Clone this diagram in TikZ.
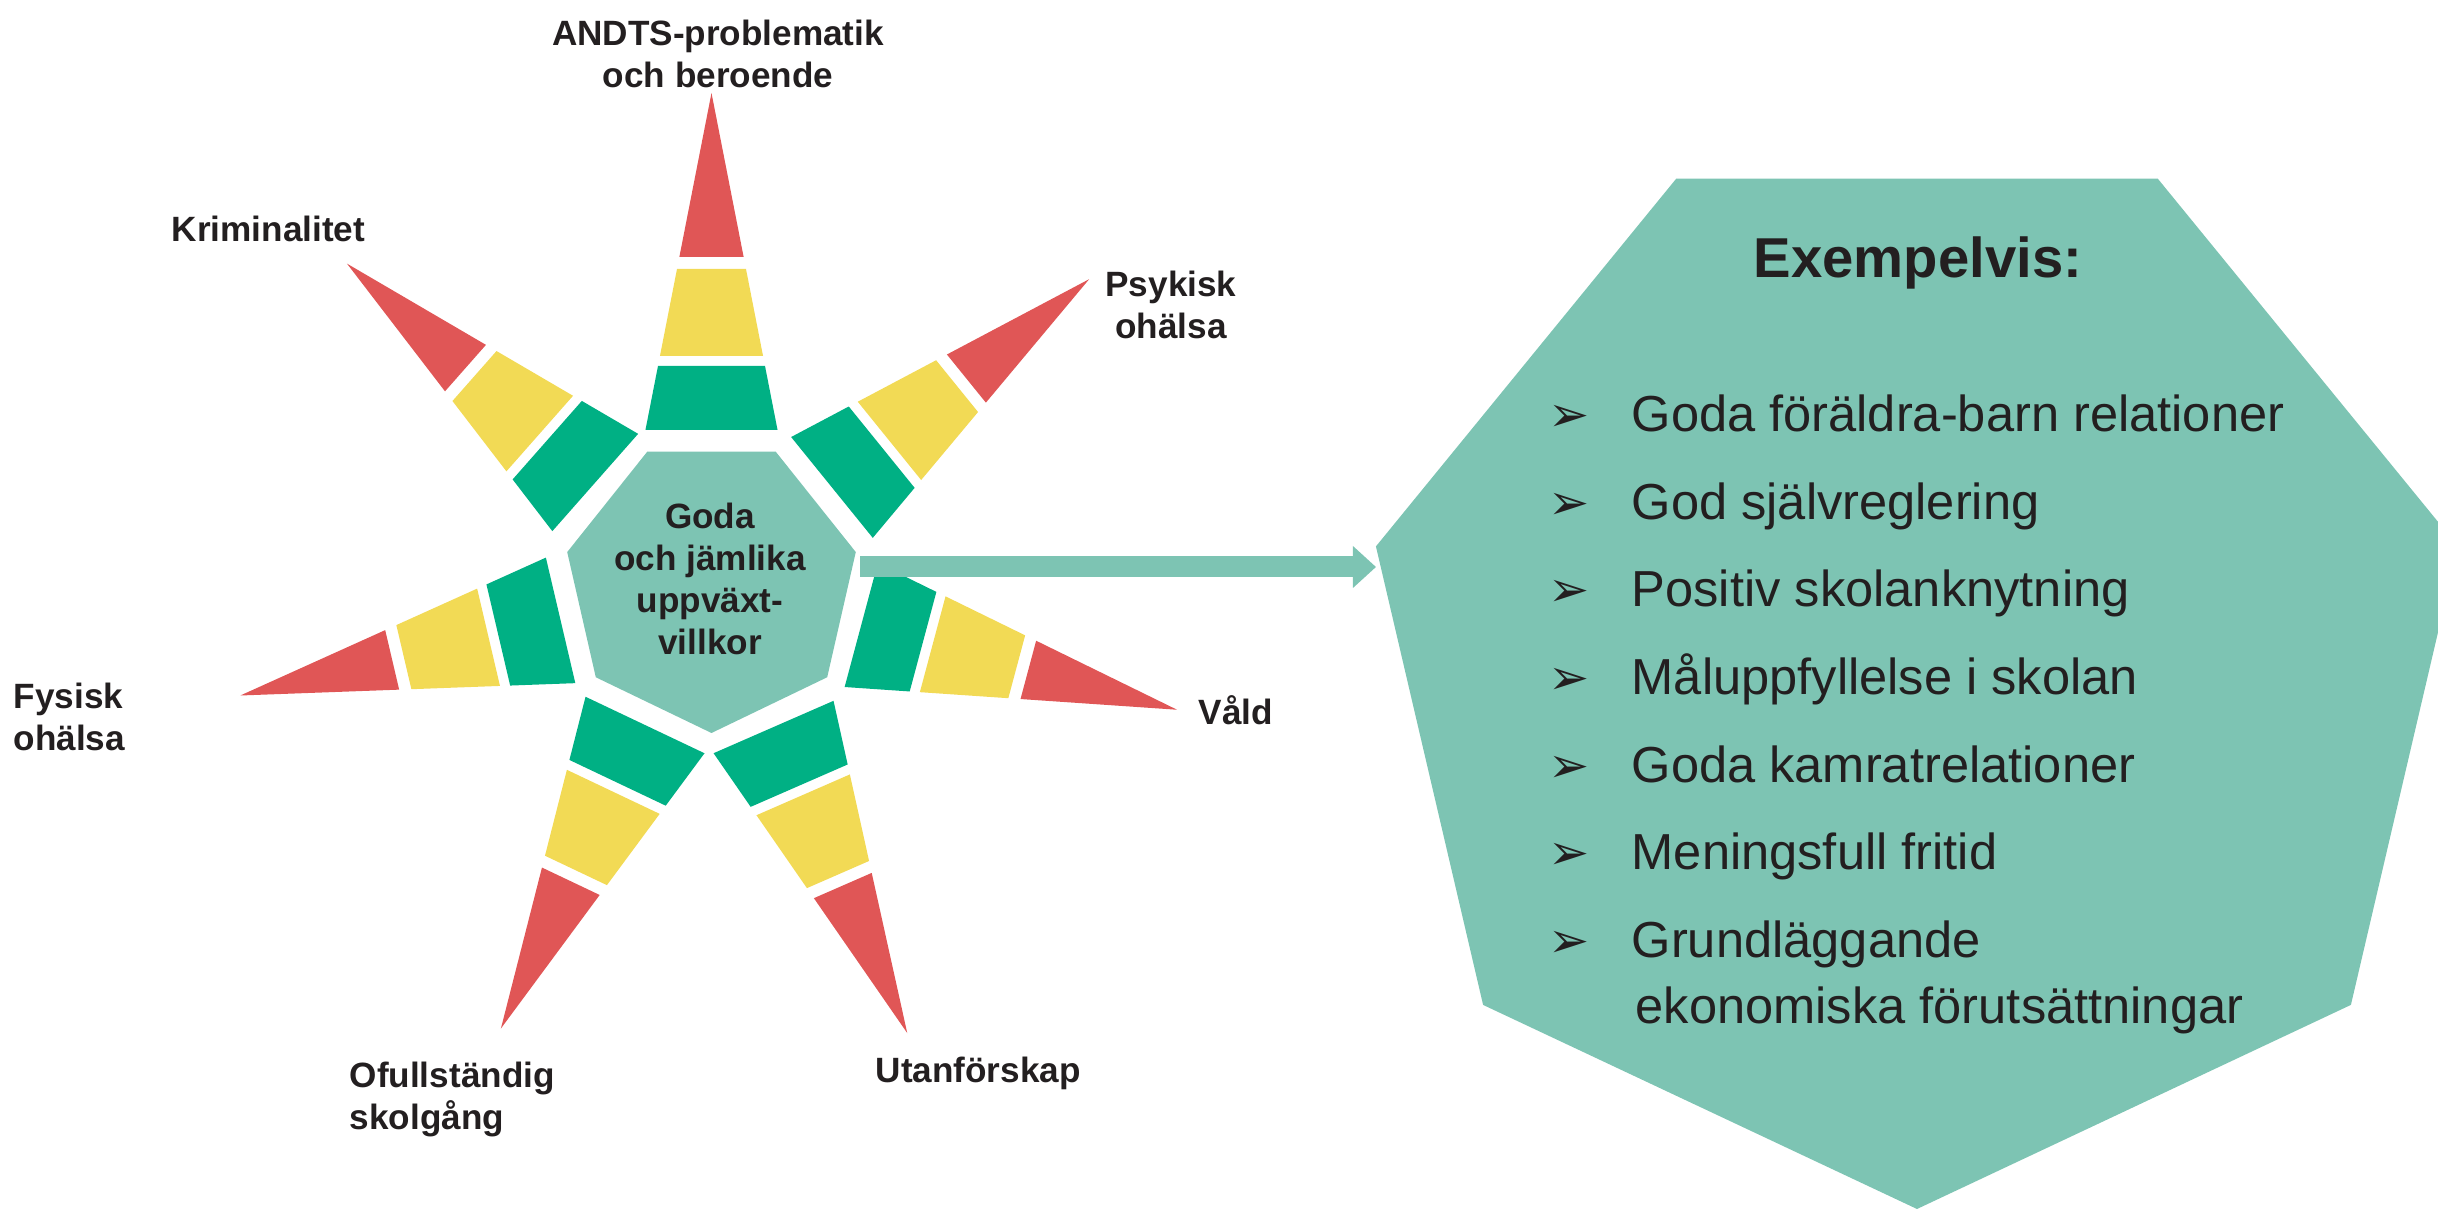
\documentclass[tikz,border=0pt]{standalone}
\usepackage{fontspec}
\setmainfont{Liberation Sans}
\newfontfamily\symbfont{DejaVu Sans}
\usetikzlibrary{shapes.geometric,%
                arrows.meta}

\definecolor{rayred}{HTML}{E05656}
\definecolor{rayyellow}{HTML}{F2DA55}
\definecolor{raygreen}{HTML}{00B084}
\definecolor{hepta}{HTML}{7DC4B3}
\definecolor{ink}{HTML}{231F20}

% one ray of the star: #1 angle, #2 length of the tip
\newcommand{\Ray}[2]{%
  \begin{scope}[shift={(core.center)},rotate=#1]
    \fill[raygreen] (1.55,{-0.196*(#2-1.55)}) -- (2.19,{-0.196*(#2-2.19)})
      -- (2.19,{0.196*(#2-2.19)}) -- (1.55,{0.196*(#2-1.55)}) -- cycle;
    \fill[rayyellow] (2.29,{-0.196*(#2-2.29)}) -- (3.16,{-0.196*(#2-3.16)})
      -- (3.16,{0.196*(#2-3.16)}) -- (2.29,{0.196*(#2-2.29)}) -- cycle;
    \fill[rayred] (3.28,{-0.196*(#2-3.28)}) -- (#2,0)
      -- (3.28,{0.196*(#2-3.28)}) -- cycle;
  \end{scope}}

\begin{document}
\begin{tikzpicture}
  \tikzstyle{Hepta}=[regular polygon,regular polygon sides=7,shape border rotate=180,
                     fill=hepta,inner sep=0pt,outer sep=0pt]
  \tikzstyle{Cause}=[font=\bfseries\fontsize{10}{12}\selectfont,text=ink,inner sep=0pt]
  \tikzstyle{Item}=[font=\fontsize{14.4}{17}\selectfont,text=ink,inner sep=0pt,anchor=base west]
  \tikzstyle{Bullet}=[font=\symbfont\bfseries\fontsize{14}{16}\selectfont,text=ink,inner sep=0pt,anchor=base west]
  \tikzstyle{Flow}=[draw=hepta,line width=2.1mm,-{Triangle[length=2.3mm,width=4.2mm,line width=0pt]}]
  \useasboundingbox (0,0) rectangle (24.38,12.09);
  \node[Hepta,minimum size=2.96cm] (core) at (7.115,6.24) {};
  \Ray{90}{4.92}
  \Ray{39}{4.86}
  \Ray{-15}{4.82}
  \Ray{-66.4}{4.89}
  \Ray{244.6}{4.91}
  \Ray{193.2}{4.84}
  \Ray{138.6}{4.86}
  \node[Hepta,minimum size=10.84cm,xscale=1.024] (goal) at (19.17,5.42) {};
  \coordinate (flowstart) at ([shift={(0.12,0.18)}]core.east);
  \draw[Flow] (flowstart) -- (flowstart -| goal.corner 6);
  % labels of the star
  \node[Cause,align=center,anchor=north] (coretext) at (7.10,7.07) {Goda\\och jämlika\\uppväxt-\\villkor};
  \node[Cause,align=center,anchor=north] (andts) at (7.18,11.90) {ANDTS-problematik\\och beroende};
  \node[Cause,align=center,anchor=north] (psyk) at (11.71,9.39) {Psykisk\\ohälsa};
  \node[Cause,anchor=base west] (vald) at (11.98,4.84) {Våld};
  \node[Cause,anchor=base west] (utan) at (8.75,1.26) {Utanförskap};
  \node[Cause,align=left,anchor=north west] (skol) at (3.49,1.48) {Ofullständig\\skolgång};
  \node[Cause,align=left,anchor=north west] (fys) at (0.13,5.27) {Fysisk\\ohälsa};
  \node[Cause,anchor=base west] (krim) at (1.71,9.675) {Kriminalitet};
  % the list
  \node[font=\bfseries\fontsize{16}{19}\selectfont,text=ink,anchor=base] (title) at (19.18,9.31) {Exempelvis:};
  \node[Bullet] (b1) at (15.48,7.77) {➢};
  \node[Item] (i1) at (16.31,7.77) {Goda föräldra-barn relationer};
  \node[Bullet] (b2) at (15.48,6.89) {➢};
  \node[Item] (i2) at (16.31,6.89) {God självreglering};
  \node[Bullet] (b3) at (15.48,6.02) {➢};
  \node[Item] (i3) at (16.31,6.02) {Positiv skolanknytning};
  \node[Bullet] (b4) at (15.48,5.14) {➢};
  \node[Item] (i4) at (16.31,5.14) {Måluppfyllelse i skolan};
  \node[Bullet] (b5) at (15.48,4.26) {➢};
  \node[Item] (i5) at (16.31,4.26) {Goda kamratrelationer};
  \node[Bullet] (b6) at (15.48,3.39) {➢};
  \node[Item] (i6) at (16.31,3.39) {Meningsfull fritid};
  \node[Bullet] (b7) at (15.48,2.51) {➢};
  \node[Item] (i7) at (16.31,2.51) {Grundläggande};
  \node[Item] (i8) at (16.35,1.85) {ekonomiska förutsättningar};
\end{tikzpicture}
\end{document}
